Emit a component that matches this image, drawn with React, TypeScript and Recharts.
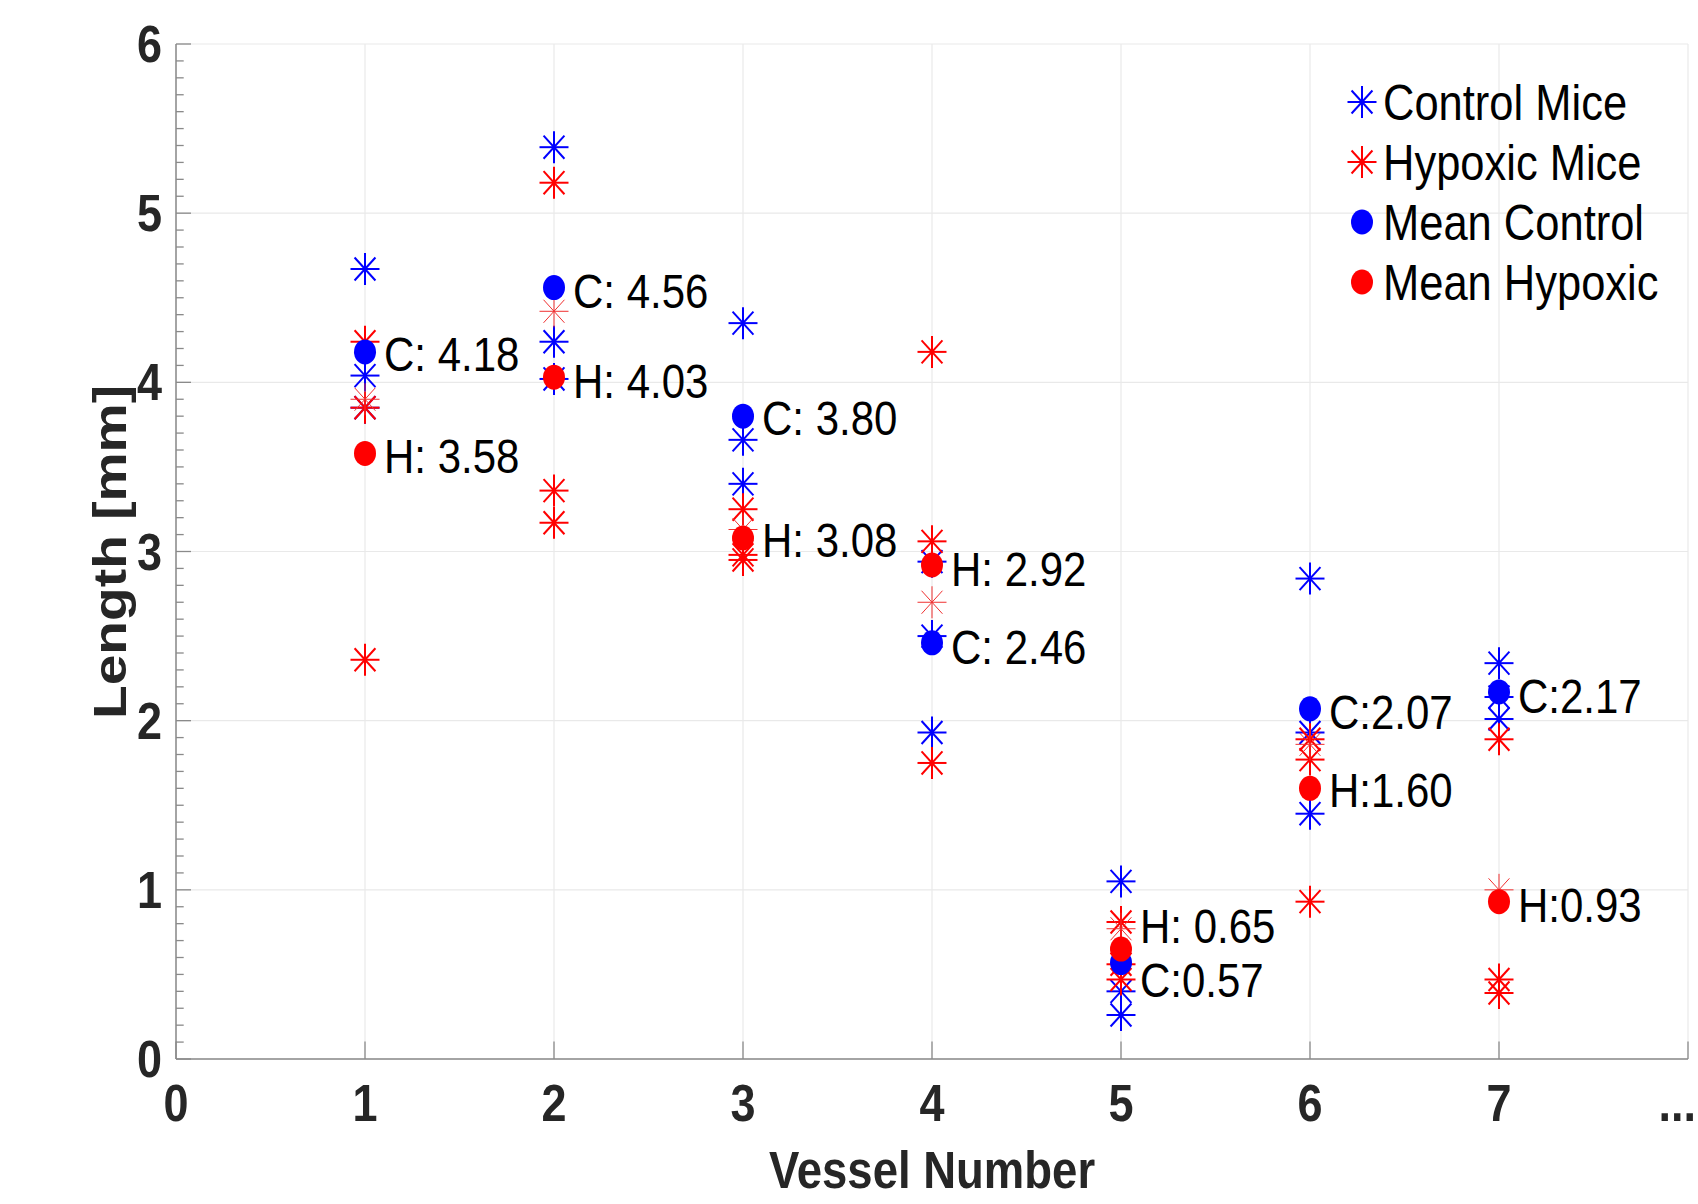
import React from 'react';
import { ScatterChart, Scatter, XAxis, YAxis, CartesianGrid } from 'recharts';

// ---- data ----
const vessels = [1, 2, 3, 4, 5, 6, 7];
const controlMouseA = [4.67, 5.39, 4.35, 2.94, 1.05, 2.84, 2.34];
const controlMouseB = [4.04, 4.24, 3.66, 2.5, 0.4, 1.93, 2.14];
const controlMouseC = [3.85, 4.02, 3.4, 1.93, 0.26, 1.45, 2.01];
const hypoxicMouseA = [4.24, 5.18, 3.25, 4.18, 0.81, 1.89, 1.89];
const hypoxicMouseB = [3.85, 3.36, 2.98, 3.06, 0.56, 1.77, 0.47];
const hypoxicMouseC = [2.36, 3.17, 2.95, 1.75, 0.47, 0.93, 0.39];
const hypoxicMouseD = [3.9, 4.42, 3.13, 2.7, 0.77, 1.86, 1.0];
const meanControl = [4.18, 4.56, 3.8, 2.46, 0.57, 2.07, 2.17];
const meanHypoxic = [3.58, 4.03, 3.08, 2.92, 0.65, 1.6, 0.93];
const controlLabels = ['C: 4.18', 'C: 4.56', 'C: 3.80', 'C: 2.46', 'C:0.57', 'C:2.07', 'C:2.17'];
const hypoxicLabels = ['H: 3.58', 'H: 4.03', 'H: 3.08', 'H: 2.92', 'H: 0.65', 'H:1.60', 'H:0.93'];
const controlLabelY = [4.17, 4.545, 3.79, 2.44, 0.47, 2.055, 2.15];
const hypoxicLabelY = [3.565, 4.01, 3.07, 2.9, 0.79, 1.59, 0.915];
const xTickValues = [0, 1, 2, 3, 4, 5, 6, 7, 8];
const xTickLabels = ['0', '1', '2', '3', '4', '5', '6', '7', '...'];
const yMajorValues = [0, 1, 2, 3, 4, 5, 6];
const legendNames = ['Control Mice', 'Hypoxic Mice', 'Mean Control', 'Mean Hypoxic'];

// ---- styles ----
const BLUE = '#0000ff';
const RED = '#ff0000';
const AXIS = '#8a8a8a';
const GRID = '#e9e9e9';
const TXT = '#262626';
const FONT = '"Liberation Sans", Arial, Helvetica, sans-serif';
const STRETCH = 1.15;

const pts = (ys: number[]) => vessels.map((v, i) => ({ x: v, y: ys[i] }));
const controlPoints = [...pts(controlMouseA), ...pts(controlMouseB), ...pts(controlMouseC)];
const hypoxicPoints = [...pts(hypoxicMouseA), ...pts(hypoxicMouseB), ...pts(hypoxicMouseC)];
const hypoxicThinPoints = pts(hypoxicMouseD);
const meanControlPoints = pts(meanControl);
const meanHypoxicPoints = pts(meanHypoxic);
const labelPoints = [
  ...vessels.map((v, i) => ({ x: v, y: controlLabelY[i], text: controlLabels[i] })),
  ...vessels.map((v, i) => ({ x: v, y: hypoxicLabelY[i], text: hypoxicLabels[i] })),
];

const yTickValues: number[] = [];
for (let k = 0; k <= 60; k++) yTickValues.push(k / 10);

const StarGlyph = ({ cx, cy, color, sw }: any) => {
  const r = 14.5;
  const ry = 16;
  const d = r * 0.72;
  const dy = ry * 0.72;
  return (
    <g stroke={color} strokeWidth={sw} strokeLinecap="butt">
      <line x1={cx - r} y1={cy} x2={cx + r} y2={cy} />
      <line x1={cx} y1={cy - ry} x2={cx} y2={cy + ry} />
      <line x1={cx - d} y1={cy - dy} x2={cx + d} y2={cy + dy} />
      <line x1={cx - d} y1={cy + dy} x2={cx + d} y2={cy - dy} />
    </g>
  );
};

const makeStar = (color: string, sw: number) => (p: any) =>
  p.cx == null ? <g /> : <StarGlyph cx={p.cx} cy={p.cy} color={color} sw={sw} />;

const makeDot = (color: string) => (p: any) =>
  p.cx == null ? <g /> : <ellipse cx={p.cx} cy={p.cy} rx={11} ry={12.5} fill={color} />;

const labelShape = (p: any) =>
  p.cx == null ? (
    <g />
  ) : (
    <text
      transform={`translate(${p.cx + 19},${p.cy}) scale(1,${STRETCH})`}
      dy="0.36em"
      fontFamily={FONT}
      fontSize={42}
      fill="#000"
    >
      {p.payload.text}
    </text>
  );

const XTick = (props: any) => {
  const { x, y, index } = props;
  const last = index === xTickLabels.length - 1;
  return (
    <g>
      <line x1={x} y1={y} x2={x} y2={y - 17.5} stroke={AXIS} strokeWidth={1.3} />
      <text
        transform={`translate(${last ? x + 8 : x},${y + 62}) scale(1,${STRETCH})`}
        textAnchor={last ? 'end' : 'middle'}
        fontFamily={FONT}
        fontWeight="bold"
        fontSize={45}
        fill={TXT}
      >
        {xTickLabels[index]}
      </text>
    </g>
  );
};

const YTick = (props: any) => {
  const { x, y, payload } = props;
  const v = payload.value;
  const major = Math.abs(v - Math.round(v)) < 1e-6;
  return (
    <g>
      <line x1={x} y1={y} x2={x + (major ? 15 : 7.7)} y2={y} stroke={AXIS} strokeWidth={1.3} />
      {major ? (
        <text
          transform={`translate(${x - 14},${y + 18}) scale(1,${STRETCH})`}
          textAnchor="end"
          fontFamily={FONT}
          fontWeight="bold"
          fontSize={45}
          fill={TXT}
        >
          {String(Math.round(v))}
        </text>
      ) : null}
    </g>
  );
};

const LegendOverlay = () => {
  const rows = [102, 162, 222, 282];
  const mx = 1362;
  return (
    <svg
      width={1698}
      height={1204}
      style={{ position: 'absolute', left: 0, top: 0, pointerEvents: 'none' }}
    >
      {legendNames.map((name, i) => {
        const cy = rows[i];
        const marker =
          i === 0 ? (
            <StarGlyph cx={mx} cy={cy} color={BLUE} sw={2} />
          ) : i === 1 ? (
            <StarGlyph cx={mx} cy={cy} color={RED} sw={2} />
          ) : (
            <ellipse cx={mx} cy={cy} rx={11} ry={12.5} fill={i === 2 ? BLUE : RED} />
          );
        return (
          <g key={name}>
            {marker}
            <text
              transform={`translate(1383,${cy}) scale(1,${STRETCH})`}
              dy="0.36em"
              fontFamily={FONT}
              fontSize={43.5}
              fill="#000"
            >
              {name}
            </text>
          </g>
        );
      })}
      <text
        transform={`translate(126,552) rotate(-90) scale(1.2,1)`}
        textAnchor="middle"
        fontFamily={FONT}
        fontWeight="bold"
        fontSize={46}
        fill={TXT}
      >
        Length [mm]
      </text>
      <text
        transform={`translate(932,1188) scale(1,1.12)`}
        textAnchor="middle"
        fontFamily={FONT}
        fontWeight="bold"
        fontSize={45.5}
        fill={TXT}
      >
        Vessel Number
      </text>
    </svg>
  );
};

export default function App() {
  return (
    <div style={{ position: 'absolute', left: 0, top: 0, width: 1698, height: 1204, background: '#fff' }}>
      <ScatterChart width={1698} height={1204} margin={{ top: 44, right: 10, bottom: 0, left: 0 }}>
        <CartesianGrid
          stroke={GRID}
          strokeWidth={1.2}
          horizontalValues={yMajorValues}
          verticalValues={xTickValues}
        />
        <XAxis
          type="number"
          dataKey="x"
          domain={[0, 8]}
          ticks={xTickValues}
          interval={0}
          height={145}
          tickSize={0}
          tickMargin={0}
          tickLine={false}
          axisLine={{ stroke: AXIS, strokeWidth: 1.5 }}
          tick={<XTick />}
          allowDataOverflow
        />
        <YAxis
          type="number"
          dataKey="y"
          domain={[0, 6]}
          ticks={yTickValues}
          interval={0}
          width={176}
          tickSize={0}
          tickMargin={0}
          tickLine={false}
          axisLine={{ stroke: AXIS, strokeWidth: 1.5 }}
          tick={<YTick />}
          allowDataOverflow
        />
        <Scatter name="Control Mice" data={controlPoints} shape={makeStar(BLUE, 2)} isAnimationActive={false} />
        <Scatter name="Hypoxic Mice" data={hypoxicPoints} shape={makeStar(RED, 2)} isAnimationActive={false} />
        <Scatter name="Hypoxic Mice 4" data={hypoxicThinPoints} shape={makeStar('#f03030', 1)} isAnimationActive={false} />
        <Scatter name="Mean Control" data={meanControlPoints} shape={makeDot(BLUE)} isAnimationActive={false} />
        <Scatter name="Mean Hypoxic" data={meanHypoxicPoints} shape={makeDot(RED)} isAnimationActive={false} />
        <Scatter name="Labels" data={labelPoints} shape={labelShape} isAnimationActive={false} />
      </ScatterChart>
      <LegendOverlay />
    </div>
  );
}
